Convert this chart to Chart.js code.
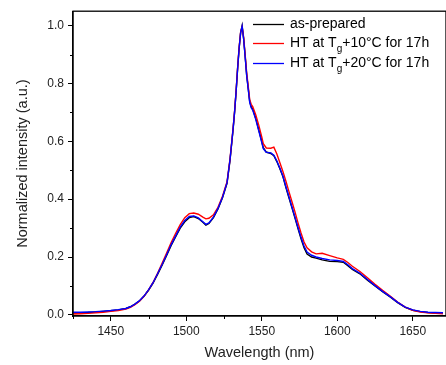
<!DOCTYPE html>
<html>
<head>
<meta charset="utf-8">
<script src="https://cdn.jsdelivr.net/npm/chart.js@4/dist/chart.umd.min.js"></script>
<style>
  html, body { margin: 0; padding: 0; background: #fff; }
  #wrap { width: 446px; height: 365px; position: relative; }
</style>
</head>
<body>
<div id="wrap"><canvas id="myChart" width="446" height="365"></canvas></div>
<script>
// wavelength (nm)
const wavelength = [1425,1430,1435,1440,1445,1450,1455,1460,1463,1466,1469,1472,1475,1478,1481,1484,1487,1490,1493,1496,
  1499,1502,1505,1508,1511,1513,1515,1518,1521,1524,1527,1529,1531,1532,1533,1534,1535,1536,1537,1538,
  1539,1540,1541,1542,1543,1544,1546,1548,1550,1551,1553,1556,1558,1560,1562,1564,1566,1568,1570,1572,
  1574,1576,1578,1580,1583,1586,1590,1595,1600,1604,1607,1610,1615,1620,1625,1630,1635,1640,1645,1650,
  1655,1660,1665,1670];

const asPrepared = [.006,.007,.008,.010,.012,.014,.017,.022,.028,.037,.048,.064,.085,.110,.140,.172,.205,.240,.270,.300,
  .322,.336,.340,.333,.320,.310,.316,.336,.366,.405,.455,.535,.640,.700,.770,.850,.920,.975,1.0,.955,
  .895,.830,.785,.738,.720,.712,.680,.640,.600,.578,.563,.558,.550,.530,.505,.478,.440,.405,.370,.335,
  .298,.263,.232,.210,.200,.196,.190,.185,.184,.182,.170,.157,.142,.120,.100,.080,.062,.042,.026,.016,
  .011,.008,.006,.005];

const ht10 = [.003,.004,.005,.007,.009,.012,.015,.020,.026,.035,.047,.064,.086,.112,.144,.178,.214,.250,.282,.312,
  .336,.350,.352,.348,.338,.332,.334,.346,.372,.410,.460,.540,.645,.705,.775,.855,.925,.978,.995,.960,
  .900,.838,.792,.745,.728,.720,.692,.656,.615,.592,.577,.576,.580,.556,.526,.496,.462,.426,.391,.356,
  .318,.283,.252,.232,.218,.211,.213,.205,.197,.192,.181,.168,.150,.128,.106,.085,.065,.044,.027,.016,
  .010,.007,.005,.004];

const ht20 = [.009,.009,.010,.011,.013,.015,.018,.022,.028,.037,.049,.065,.086,.111,.142,.174,.208,.243,.273,.303,
  .326,.340,.342,.335,.322,.313,.318,.338,.368,.407,.457,.538,.642,.702,.772,.852,.922,.976,.998,.953,
  .892,.828,.782,.735,.716,.708,.676,.636,.596,.575,.562,.560,.552,.532,.507,.480,.443,.408,.373,.338,
  .302,.268,.238,.217,.206,.200,.195,.190,.188,.185,.173,.160,.144,.122,.101,.081,.063,.043,.027,.017,
  .012,.009,.008,.007];

const seriesNames = ["as-prepared", "HT at T|g|+10°C for 17h", "HT at T|g|+20°C for 17h"];
const seriesColors = ["#000000", "#ff0000", "#0000ff"];
const xTicks = [1450, 1500, 1550, 1600, 1650];
const xMinor = [1425, 1475, 1525, 1575, 1625];
const yMinor = [0.1, 0.3, 0.5, 0.7, 0.9];

function toPoints(arr) {
  return arr.map((v, i) => ({ x: wavelength[i], y: v }));
}

const FONT = "'Liberation Sans', Arial, sans-serif";

// frame, minor ticks and legend
const extras = {
  id: "extras",
  afterDraw(chart) {
    const { ctx, chartArea: a, scales } = chart;
    ctx.save();
    ctx.strokeStyle = "#000";
    ctx.lineWidth = 1.3;
    ctx.strokeRect(a.left, a.top, a.right - a.left, a.bottom - a.top);

    ctx.lineWidth = 1;
    ctx.beginPath();
    xMinor.forEach(v => {
      const px = Math.round(scales.x.getPixelForValue(v)) + 0.5;
      ctx.moveTo(px, a.bottom);
      ctx.lineTo(px, a.bottom + 3);
    });
    yMinor.forEach(v => {
      const py = Math.round(scales.y.getPixelForValue(v)) + 0.5;
      ctx.moveTo(a.left, py);
      ctx.lineTo(a.left - 3, py);
    });
    ctx.stroke();

    // legend
    const rows = [24, 43, 63];
    seriesNames.forEach((name, i) => {
      const y = rows[i];
      ctx.strokeStyle = seriesColors[i];
      ctx.lineWidth = 1.3;
      ctx.beginPath();
      ctx.moveTo(253, y + 0.5);
      ctx.lineTo(284, y + 0.5);
      ctx.stroke();
      ctx.fillStyle = "#000";
      ctx.textBaseline = "middle";
      let x = 290;
      name.split("|").forEach((part, k) => {
        if (k === 1) {
          ctx.font = "10px " + FONT;
          ctx.fillText(part, x, y + 6);
        } else {
          ctx.font = "14px " + FONT;
          ctx.fillText(part, x, y);
        }
        x += ctx.measureText(part).width;
      });
    });
    ctx.restore();
  }
};

const ctx = document.getElementById("myChart").getContext("2d");

const chart1 = new Chart(ctx, {
  type: "line",
  data: {
    datasets: [
      { label: "as-prepared", data: toPoints(asPrepared), borderColor: seriesColors[0], order: 3 },
      { label: "HT at Tg+10°C for 17h", data: toPoints(ht10), borderColor: seriesColors[1], order: 2 },
      { label: "HT at Tg+20°C for 17h", data: toPoints(ht20), borderColor: seriesColors[2], order: 1 },
    ],
  },
  options: {
    responsive: false,
    animation: false,
    devicePixelRatio: 1,
    layout: { padding: { top: 10, right: 0, left: 0, bottom: 0 } },
    elements: {
      point: { radius: 0 },
      line: { borderWidth: 1.4, tension: 0 },
    },
    plugins: {
      legend: { display: false },
      tooltip: { enabled: false },
    },
    scales: {
      x: {
        type: "linear",
        min: 1425,
        max: 1672,
        afterFit: (s) => { s.height = 49; },
        afterBuildTicks: (s) => { s.ticks = xTicks.map(v => ({ value: v })); },
        grid: { drawOnChartArea: false, drawTicks: true, tickLength: 5, color: "#000", lineWidth: 1 },
        border: { display: true, color: "#000", width: 1.3 },
        ticks: {
          color: "#222",
          font: { family: FONT, size: 12 },
          padding: 3,
          maxRotation: 0,
          callback: (v) => String(v),
        },
        title: {
          display: true,
          text: "Wavelength (nm)",
          color: "#222",
          font: { family: FONT, size: 14.5 },
          padding: { top: 0, bottom: 3 },
        },
      },
      y: {
        min: -0.004,
        max: 1.05,
        afterFit: (s) => { s.width = 73; },
        ticks: {
          stepSize: 0.2,
          includeBounds: false,
          color: "#222",
          font: { family: FONT, size: 12 },
          padding: 4,
          callback: (v) => v.toFixed(1),
        },
        grid: { drawOnChartArea: false, drawTicks: true, tickLength: 5, color: "#000", lineWidth: 1 },
        border: { display: true, color: "#000", width: 1.3 },
        title: {
          display: true,
          text: "Normalized intensity (a.u.)",
          color: "#222",
          font: { family: FONT, size: 14.5 },
          padding: { top: 14, bottom: 0 },
        },
      },
    },
  },
  plugins: [extras],
});
</script>
</body>
</html>
